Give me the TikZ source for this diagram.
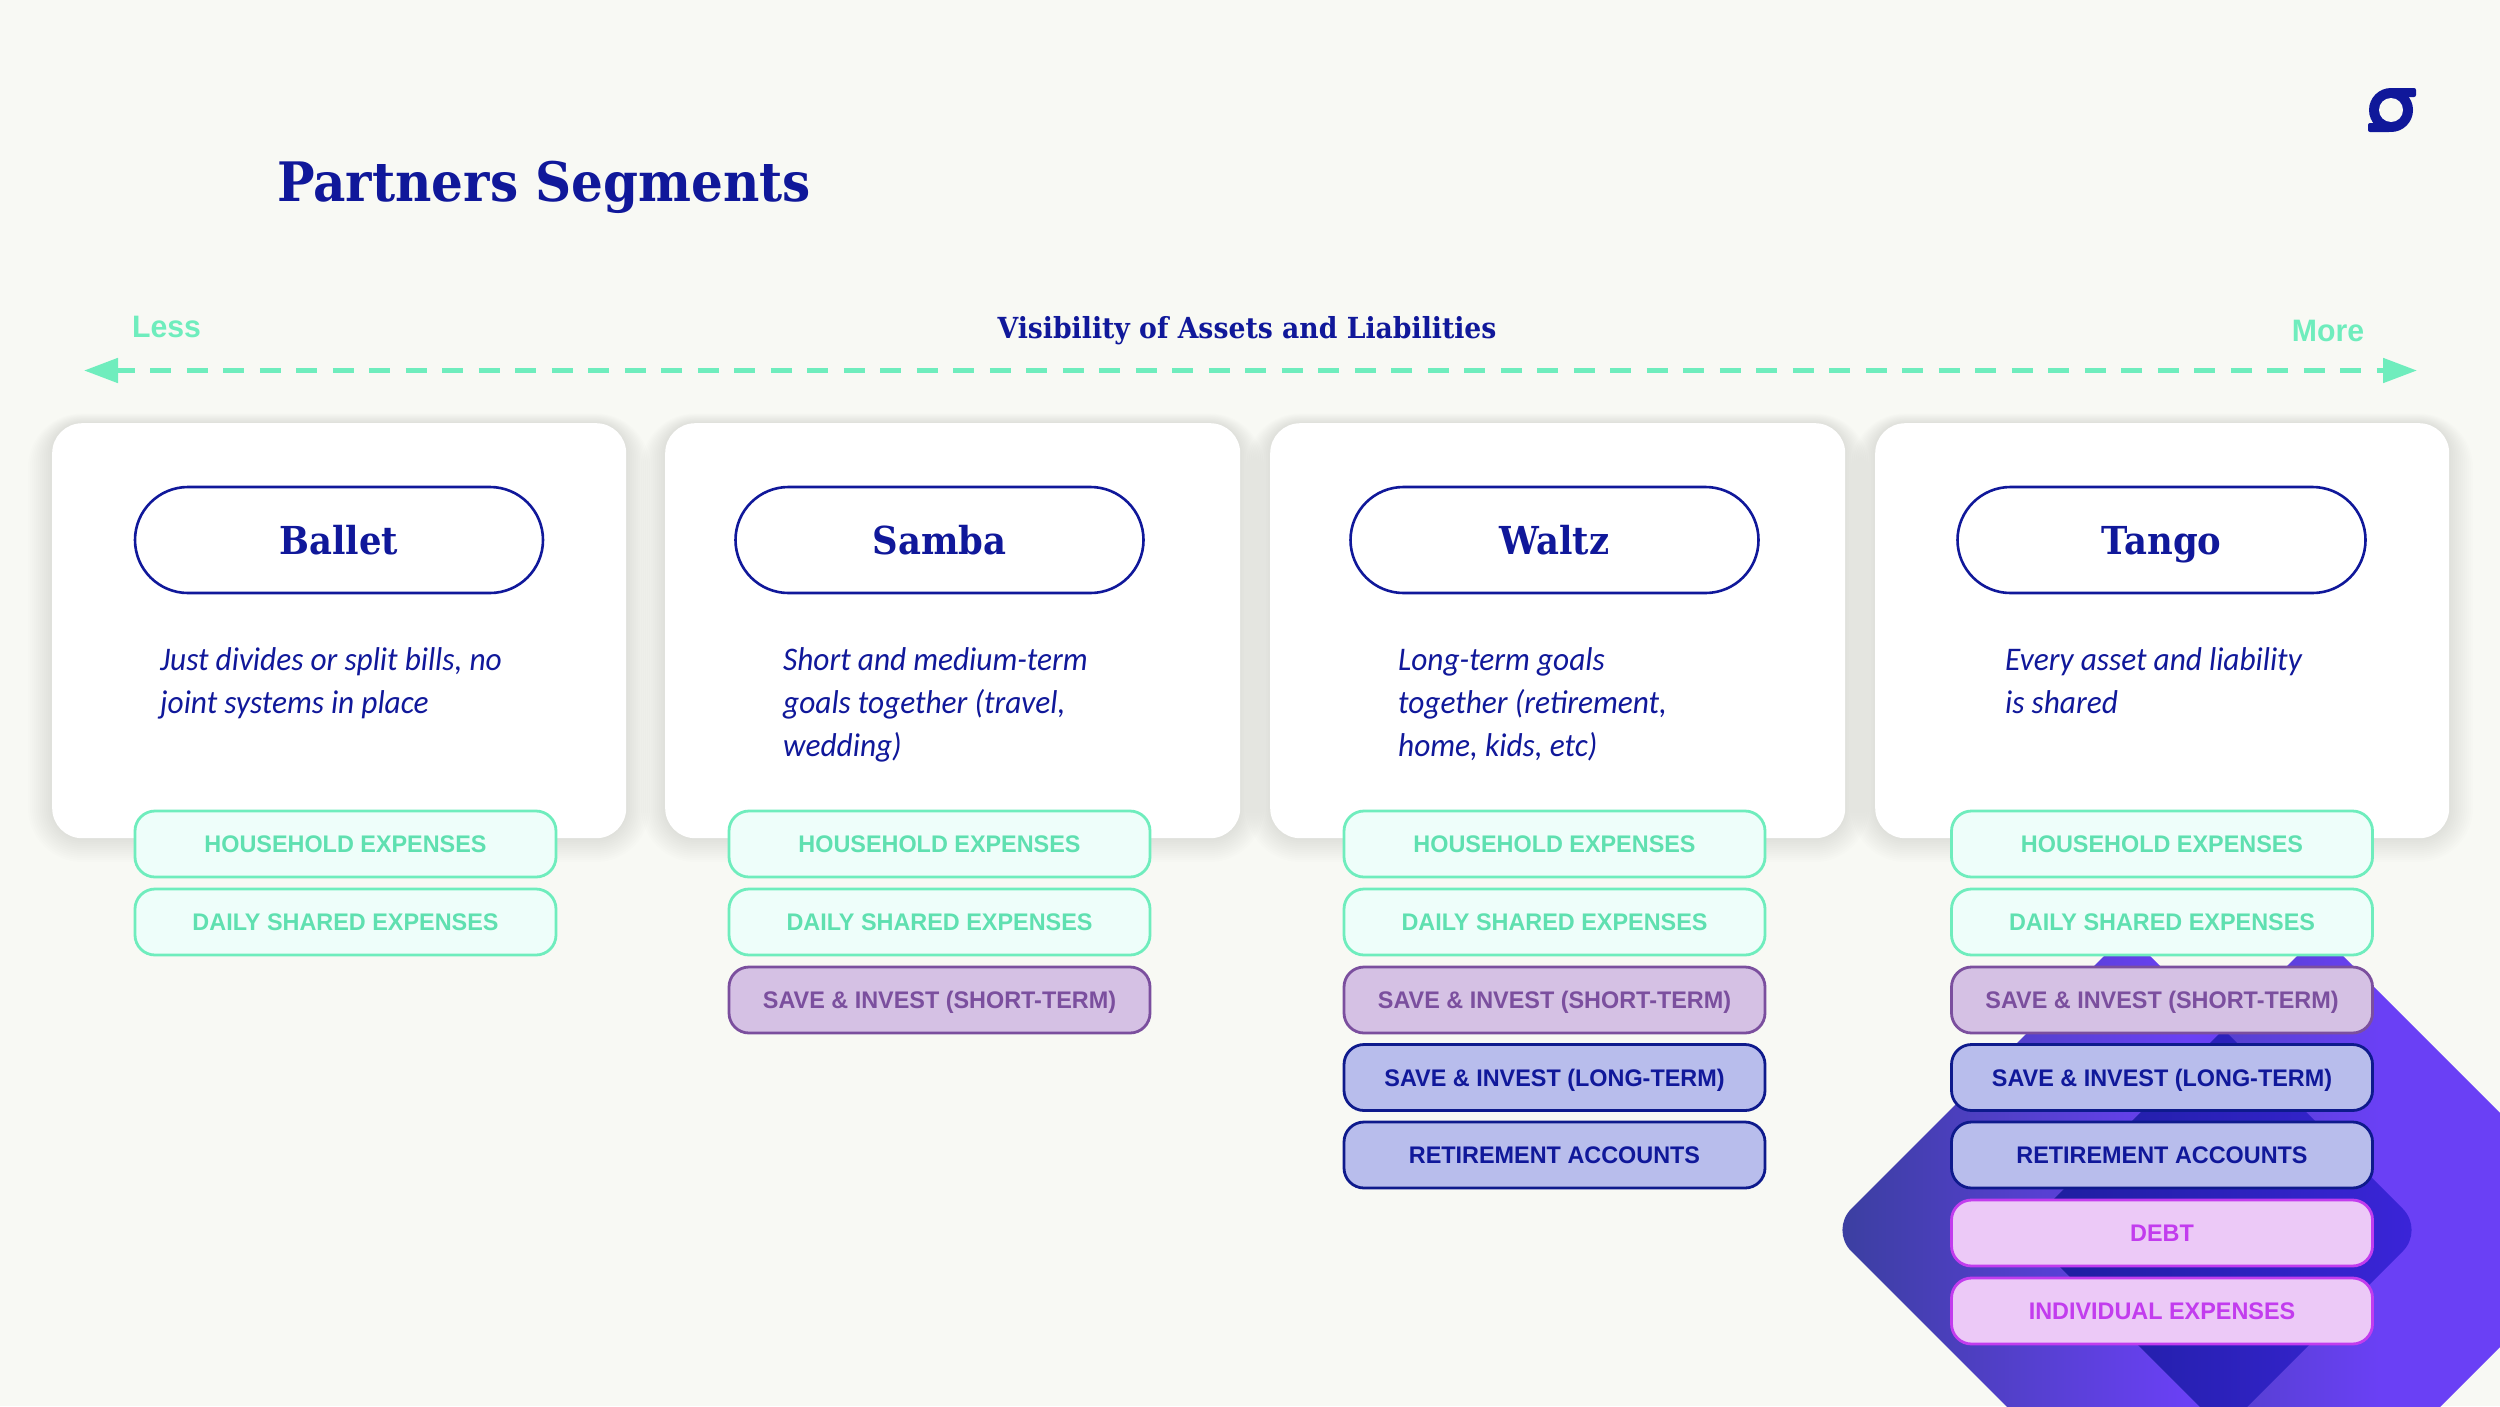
\documentclass[tikz,border=0pt]{standalone}
\usepackage{fontspec}
\usetikzlibrary{arrows.meta}
\newfontfamily\slabf[FakeStretch=0.92]{DejaVu Serif}
\newfontfamily\descf[FakeStretch=0.95]{Carlito}
\newfontfamily\chipf[FakeStretch=0.975]{Liberation Sans}
\definecolor{pagebg}{HTML}{F8F9F4}
\definecolor{navy}{HTML}{10189A}
\definecolor{mint}{HTML}{6FEDBD}
\definecolor{minttext}{HTML}{5FE0B0}
\definecolor{mintfill}{HTML}{EEFEFA}
\definecolor{plumfill}{HTML}{D5C1E4}
\definecolor{plum}{HTML}{7B4F9E}
\definecolor{bluefill}{HTML}{B8BDEC}
\definecolor{blueline}{HTML}{0E1A8C}
\definecolor{pinkfill}{HTML}{ECC9F7}
\definecolor{pink}{HTML}{C23CEE}
\definecolor{gradL}{HTML}{3A3F9E}
\definecolor{gradR}{HTML}{6A40F5}
\definecolor{darkL}{HTML}{1C1E9C}
\definecolor{darkR}{HTML}{4A28F8}
\pgfdeclarehorizontalshading{gemshade}{100bp}{color(0bp)=(gradL); color(25bp)=(gradL); color(55bp)=(gradR); color(100bp)=(gradR)}
\pgfdeclarehorizontalshading{overlapshade}{100bp}{color(0bp)=(darkL); color(25bp)=(darkL); color(75bp)=(darkR); color(100bp)=(darkR)}
\newcommand{\gemA}{(2127,933) -- (2424,1230) -- (2127,1527) -- (1830,1230) -- cycle}
\newcommand{\gemB}{(2320,933) -- (2617,1230) -- (2320,1527) -- (2023,1230) -- cycle}
\newcommand{\cardat}[3]{%
  \foreach \k in {1,...,12} {\fill[black,opacity=0.0065,rounded corners=30+\k*2] (#1-\k*2,423-\k*0.8) rectangle (#2+\k*2,838+\k*2);}
  \node[cardbox,minimum width=#2-#1,minimum height=415,anchor=north west] (#3) at (#1,423) {};}
\tikzset{
  cardbox/.style={fill=white,rounded corners=30,inner sep=0pt},
  pillbox/.style={draw=navy,line width=2.6pt,fill=white,rounded corners=53,minimum width=408,minimum height=106,inner sep=0pt,text=navy,font=\slabf\bfseries\fontsize{38.5}{38.5}\selectfont,text height=28,text depth=0},
  chipbase/.style={rounded corners=20,line width=2.8pt,minimum width=421,minimum height=66,inner sep=0pt,font=\chipf\bfseries\fontsize{24}{24}\selectfont,text height=17.3,text depth=0},
  mintchip/.style={chipbase,draw=mint,fill=mintfill,text=minttext},
  plumchip/.style={chipbase,draw=plum,fill=plumfill,text=plum},
  bluechip/.style={chipbase,draw=blueline,fill=bluefill,text=navy},
  pinkchip/.style={chipbase,draw=pink,fill=pinkfill,text=pink},
  desctext/.style={anchor=north west,inner sep=0pt,align=left,text=navy,font=\descf\itshape\fontsize{33}{43}\selectfont},
  endlabel/.style={inner sep=0pt,text=mint,font=\chipf\bfseries\fontsize{31}{31}\selectfont,text height=22,text depth=0},
}
\begin{document}
\begin{tikzpicture}[x=1pt,y=-1pt]
\useasboundingbox (0,0) rectangle (2500,1406);
\fill[pagebg] (0,0) rectangle (2500,1406);
% gems
\begin{scope}
\clip (0,0) rectangle (2500,1406);
\shade[shading=gemshade,rounded corners=30] \gemA;
\shade[shading=gemshade,rounded corners=30] \gemB;
\begin{scope}
\clip[rounded corners=30] \gemA;
\shade[shading=overlapshade,rounded corners=30] \gemB;
\end{scope}
\end{scope}
% title
\node[anchor=base west,inner sep=0pt,text=navy,font=\slabf\bfseries\fontsize{54.4}{54.4}\selectfont] (title) at (277,201) {Partners Segments};
% logo
\fill[navy] (2391,110) circle[radius=22];
\fill[navy,rounded corners=2] (2391,88) rectangle (2416,97);
\fill[navy,rounded corners=2] (2368,123) rectangle (2391,132);
\fill[pagebg] (2391,110) circle[radius=12];
% axis
\node[endlabel] (less) at (166.5,326) {Less};
\node[endlabel] (more) at (2328,330) {More};
\node[inner sep=0pt,text=navy,font=\slabf\bfseries\fontsize{29}{29}\selectfont] (axis) at (1247,331) {Visibility of Assets and Liabilities};
\coordinate (axL) at (84,370.5);
\coordinate (axR) at (2417,370.5);
\draw[draw=mint,line width=5pt,dash pattern=on 21pt off 15.5pt,dash phase=3pt,{Triangle[length=34pt,width=24pt]}-{Triangle[length=34pt,width=24pt]}] (axL) -- (axR);
% cards
\cardat{52}{626}{cardA}
\cardat{665}{1240}{cardB}
\cardat{1270}{1845}{cardC}
\cardat{1875}{2449}{cardD}
% pills
\node[pillbox] (pA) at (339,540) {Ballet};
\node[pillbox] (pB) at (939.5,540) {Samba};
\node[pillbox] (pC) at (1554.5,540) {Waltz};
\node[pillbox] (pD) at (2161.5,540) {Tango};
% descriptions
\node[desctext] (dA) at (160,647) {Just divides or split bills, no\\joint systems in place};
\node[desctext] (dB) at (783,647) {Short and medium-term\\goals together (travel,\\wedding)};
\node[desctext] (dC) at (1398,647) {Long-term goals\\together (retirement,\\home, kids, etc)};
\node[desctext] (dD) at (2005,647) {Every asset and liability\\is shared};
% chips
\node[mintchip] (a1) at (345.5,844) {HOUSEHOLD EXPENSES};
\node[mintchip] (a2) at (345.5,922) {DAILY SHARED EXPENSES};
\node[mintchip] (b1) at (939.5,844) {HOUSEHOLD EXPENSES};
\node[mintchip] (b2) at (939.5,922) {DAILY SHARED EXPENSES};
\node[plumchip] (b3) at (939.5,1000) {SAVE \& INVEST (SHORT-TERM)};
\node[mintchip] (c1) at (1554.5,844) {HOUSEHOLD EXPENSES};
\node[mintchip] (c2) at (1554.5,922) {DAILY SHARED EXPENSES};
\node[plumchip] (c3) at (1554.5,1000) {SAVE \& INVEST (SHORT-TERM)};
\node[bluechip] (c4) at (1554.5,1077.5) {SAVE \& INVEST (LONG-TERM)};
\node[bluechip] (c5) at (1554.5,1155) {RETIREMENT ACCOUNTS};
\node[mintchip] (d1) at (2162,844) {HOUSEHOLD EXPENSES};
\node[mintchip] (d2) at (2162,922) {DAILY SHARED EXPENSES};
\node[plumchip] (d3) at (2162,1000) {SAVE \& INVEST (SHORT-TERM)};
\node[bluechip] (d4) at (2162,1077.5) {SAVE \& INVEST (LONG-TERM)};
\node[bluechip] (d5) at (2162,1155) {RETIREMENT ACCOUNTS};
\node[pinkchip] (d6) at (2162,1233) {DEBT};
\node[pinkchip] (d7) at (2162,1311) {INDIVIDUAL EXPENSES};
\end{tikzpicture}
\end{document}
